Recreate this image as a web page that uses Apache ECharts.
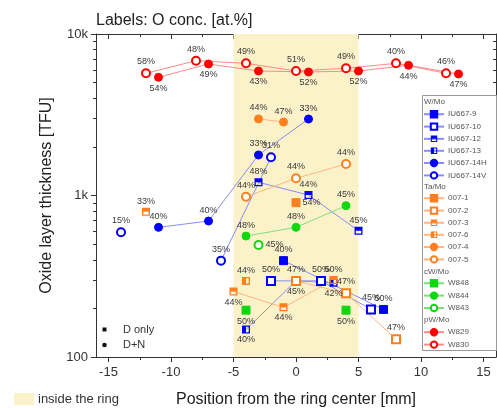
<!DOCTYPE html>
<html><head><meta charset="utf-8">
<script src="https://cdn.jsdelivr.net/npm/echarts@6/dist/echarts.min.js"></script>
<style>html,body{margin:0;padding:0;background:#fff}#c{width:497px;height:408px}</style>
</head><body><div id="c"></div>
<script>
// ---------- axis ticks ----------
const xMajor = [-15, -10, -5, 0, 5, 10, 15];
const xMinor = [-12.5, -7.5, -2.5, 2.5, 7.5, 12.5];
const yMajor = [100, 1000, 10000];
const yMinor = [200, 300, 400, 500, 600, 700, 800, 900, 2000, 3000, 4000, 5000, 6000, 7000, 8000, 9000];
const ringRange = [-5, 5];

// ---------- W/Mo ----------
const IU667_9_x = [-1, 7],        IU667_9_y = [395, 197],          IU667_9_l = ['40%', '50%'];
const IU667_10_x = [-2, 2, 6],    IU667_10_y = [296, 296, 197],    IU667_10_l = ['50%', '50%', '45%'];
const IU667_12_x = [-3, 1, 5],    IU667_12_y = [1207, 1007, 605],  IU667_12_l = ['48%', '44%', '45%'];
const IU667_13_x = [-4, 0, 3],    IU667_13_y = [148, 296, 288],    IU667_13_l = ['40%', '45%', '42%'];
const IU667_14H_x = [-11, -7, -3, 1], IU667_14H_y = [635, 695, 1782, 2975], IU667_14H_l = ['40%', '40%', '33%', '33%'];
const IU667_14V_x = [-6, -2],     IU667_14V_y = [395, 1724],       IU667_14V_l = ['35%', '31%'];
const IU667_14V_bx = [-14],       IU667_14V_by = [592],            IU667_14V_bl = ['15%'];
// ---------- Ta/Mo ----------
const T007_1_x = [0],             T007_1_y = [903],                T007_1_l = ['54%'];
const T007_2_x = [0, 4, 8],       T007_2_y = [296, 248, 129],      T007_2_l = ['47%', '47%', '47%'];
const T007_3_x = [-5, -1, 3],     T007_3_y = [254, 203, 300],      T007_3_l = ['44%', '44%', '50%'];
const T007_3_bx = [-12],          T007_3_by = [794],               T007_3_bl = ['33%'];
const T007_6_x = [-4],            T007_6_y = [296],                T007_6_l = ['44%'];
const T007_4_x = [-3, -1],        T007_4_y = [2980, 2850],         T007_4_l = ['44%', '47%'];
const T007_5_x = [-4, 0, 4],      T007_5_y = [983, 1278, 1567],    T007_5_l = ['44%', '44%', '44%'];
// ---------- cW/Mo ----------
const W848_x = [-4],              W848_y = [195],                  W848_l = ['50%'];
const W848_bx = [4],              W848_by = [195],                 W848_bl = ['50%'];
const W844_x = [-4, 0, 4],        W844_y = [561, 635, 865],        W844_l = ['48%', '48%', '45%'];
const W843_x = [-3],              W843_y = [494],                  W843_l = ['45%'];
// ---------- pW/Mo ----------
const W829_x = [-11, -7, -3, 1, 5, 9, 13];
const W829_y = [5395, 6520, 5900, 5820, 5900, 6400, 5655];
const W829_l = ['54%', '49%', '43%', '52%', '52%', '44%', '47%'];
const W830_x = [-12, -8, -4, 0, 4, 8, 12];
const W830_y = [5710, 6835, 6585, 5900, 6130, 6585, 5710];
const W830_l = ['58%', '48%', '49%', '51%', '49%', '40%', '46%'];

const legendGroups = [
  ['W/Mo', ['IU667-9', 'IU667-10', 'IU667-12', 'IU667-13', 'IU667-14H', 'IU667-14V']],
  ['Ta/Mo', ['007-1', '007-2', '007-3', '007-6', '007-4', '007-5']],
  ['cW/Mo', ['W848', 'W844', 'W843']],
  ['pW/Mo', ['W829', 'W830']]
];

// ---------- styles ----------
const FONT = 'Arial, "Liberation Sans", sans-serif';
const BLUE = {m: '#0000ff', l: '#8c8cf2'};
const ORANGE = {m: '#ff7f1e', l: '#ffb684'};
const GREEN = {m: '#10d810', l: '#7ede7e'};
const RED = {m: '#ff0000', l: '#ff8a8a'};
const RING = '#fbf2ca';
const SQ_OUT = 'M0,0L10,0L10,10L0,10Z M1.6,1.6L1.6,8.4L8.4,8.4L8.4,1.6Z ';
const HALF_TOP = 'path://' + SQ_OUT + 'M1.6,1.6L8.4,1.6L8.4,5L1.6,5Z';
const HALF_LEFT = 'path://' + SQ_OUT + 'M1.6,1.6L5,1.6L5,8.4L1.6,8.4Z';

function mk(name, xs, ys, lbls, c, symbol, pos, posArr) {
  const isPath = symbol.indexOf('path://') === 0;
  return {
    name: name, type: 'line',
    data: xs.map((x, i) => {
      const it = {value: [x, ys[i]]};
      if (posArr && posArr[i]) it.label = {position: posArr[i]};
      return it;
    }),
    symbol: symbol, symbolSize: 8,
    itemStyle: {color: c.m, borderColor: c.m, borderWidth: isPath ? 0 : 1},
    lineStyle: {color: c.l, width: 1},
    label: {show: true, position: pos, distance: 2, formatter: p => lbls[p.dataIndex],
            fontSize: 9, color: '#3a3a3a', fontFamily: FONT},
    emphasis: {disabled: true},
    z: 2
  };
}

const series = [
  mk('W829', W829_x, W829_y, W829_l, RED, 'circle', 'bottom'),
  mk('W830', W830_x, W830_y, W830_l, RED, 'emptyCircle', 'top'),
  mk('IU667-9', IU667_9_x, IU667_9_y, IU667_9_l, BLUE, 'rect', 'top'),
  mk('IU667-10', IU667_10_x, IU667_10_y, IU667_10_l, BLUE, 'emptyRect', 'top'),
  mk('IU667-12', IU667_12_x, IU667_12_y, IU667_12_l, BLUE, HALF_TOP, 'top'),
  mk('IU667-13', IU667_13_x, IU667_13_y, IU667_13_l, BLUE, HALF_LEFT, 'bottom'),
  mk('IU667-14H', IU667_14H_x, IU667_14H_y, IU667_14H_l, BLUE, 'circle', 'top'),
  mk('IU667-14V', IU667_14V_x, IU667_14V_y, IU667_14V_l, BLUE, 'emptyCircle', 'top'),
  mk('_14V_b', IU667_14V_bx, IU667_14V_by, IU667_14V_bl, BLUE, 'emptyCircle', 'top'),
  mk('007-1', T007_1_x, T007_1_y, T007_1_l, ORANGE, 'rect', 'right'),
  mk('007-2', T007_2_x, T007_2_y, T007_2_l, ORANGE, 'emptyRect', 'top'),
  mk('007-3', T007_3_x, T007_3_y, T007_3_l, ORANGE, HALF_TOP, 'bottom', [null, null, 'top']),
  mk('_0073_b', T007_3_bx, T007_3_by, T007_3_bl, ORANGE, HALF_TOP, 'top'),
  mk('007-6', T007_6_x, T007_6_y, T007_6_l, ORANGE, HALF_LEFT, 'top'),
  mk('007-4', T007_4_x, T007_4_y, T007_4_l, ORANGE, 'circle', 'top'),
  mk('007-5', T007_5_x, T007_5_y, T007_5_l, ORANGE, 'emptyCircle', 'top'),
  mk('W848', W848_x, W848_y, W848_l, GREEN, 'rect', 'bottom'),
  mk('_W848_b', W848_bx, W848_by, W848_bl, GREEN, 'rect', 'bottom'),
  mk('W844', W844_x, W844_y, W844_l, GREEN, 'circle', 'top'),
  mk('W843', W843_x, W843_y, W843_l, GREEN, 'emptyCircle', 'right')
];
series[0].markArea = {
  silent: true,
  itemStyle: {color: RING},
  data: [[{xAxis: ringRange[0]}, {xAxis: ringRange[1]}]]
};

const legendTops = [110, 194, 279, 328];
const headerY = [102, 187, 272, 320];
const legends = legendGroups.map((g, i) => ({
  data: g[1], orient: 'vertical', left: 423, top: legendTops[i], padding: 0,
  itemWidth: 20, itemHeight: 8, itemGap: 4, selectedMode: false, z: 5,
  textStyle: {fontSize: 8, lineHeight: 8, color: '#555', fontFamily: FONT, padding: [0, 0, 0, -1]}
}));

const axisLineStyle = {color: '#333', width: 1};
const xBase = {type: 'value', min: -16, max: 16, splitLine: {show: false}};
const yBase = {type: 'log', logBase: 10, min: 100, max: 10000, splitLine: {show: false}};

const option = {
  animation: false,
  backgroundColor: '#fff',
  title: {text: 'Labels: O conc. [at.%]', left: 96, top: 13, padding: 0,
          textStyle: {fontSize: 16, fontWeight: 'normal', color: '#222', fontFamily: FONT}},
  grid: {left: 96, top: 34, width: 400, height: 323, containLabel: false, outerBoundsMode: 'none'},
  legend: legends,
  xAxis: [
    Object.assign({}, xBase, {position: 'bottom',
      axisLine: {show: true, onZero: false, lineStyle: axisLineStyle},
      axisTick: {show: true, inside: false, length: 5, customValues: xMajor, lineStyle: axisLineStyle},
      axisLabel: {customValues: xMajor, fontSize: 13, color: '#333', margin: 9, fontFamily: FONT},
      name: 'Position from the ring center [mm]', nameLocation: 'middle', nameGap: 35,
      nameTextStyle: {fontSize: 16, color: '#222', fontFamily: FONT}}),
    Object.assign({}, xBase, {position: 'top',
      axisLine: {show: true, onZero: false, lineStyle: axisLineStyle},
      axisTick: {show: true, inside: true, length: 5, customValues: xMajor, lineStyle: axisLineStyle},
      axisLabel: {show: false}}),
    Object.assign({}, xBase, {position: 'bottom',
      axisLine: {show: false, onZero: false},
      axisTick: {show: true, inside: false, length: 3, customValues: xMinor, lineStyle: axisLineStyle},
      axisLabel: {show: false}}),
    Object.assign({}, xBase, {position: 'top',
      axisLine: {show: false, onZero: false},
      axisTick: {show: true, inside: true, length: 3, customValues: xMinor, lineStyle: axisLineStyle},
      axisLabel: {show: false}})
  ],
  yAxis: [
    Object.assign({}, yBase, {position: 'left',
      axisLine: {show: true, onZero: false, lineStyle: axisLineStyle},
      axisTick: {show: true, inside: false, length: 5, customValues: yMajor, lineStyle: axisLineStyle},
      axisLabel: {customValues: yMajor, fontSize: 13, color: '#333', margin: 8, fontFamily: FONT,
        formatter: v => v >= 10000 ? '10k' : (v >= 1000 ? '1k' : String(v))},
      name: 'Oxide layer thickness [TFU]', nameLocation: 'middle', nameGap: 41,
      nameTextStyle: {fontSize: 16, color: '#222', fontFamily: FONT}}),
    Object.assign({}, yBase, {position: 'right',
      axisLine: {show: true, onZero: false, lineStyle: axisLineStyle},
      axisTick: {show: true, inside: true, length: 5, customValues: yMajor, lineStyle: axisLineStyle},
      axisLabel: {show: false}}),
    Object.assign({}, yBase, {position: 'left',
      axisLine: {show: false, onZero: false},
      axisTick: {show: true, inside: false, length: 3, customValues: yMinor, lineStyle: axisLineStyle},
      axisLabel: {show: false}}),
    Object.assign({}, yBase, {position: 'right',
      axisLine: {show: false, onZero: false},
      axisTick: {show: true, inside: true, length: 3, customValues: yMinor, lineStyle: axisLineStyle},
      axisLabel: {show: false}})
  ],
  graphic: [
    {type: 'rect', shape: {x: 422.5, y: 95.5, width: 74, height: 255}, z: 3,
     style: {fill: '#fff', stroke: '#9a9a9a', lineWidth: 1}},
    ...legendGroups.map((g, i) => ({type: 'text', x: 424, y: headerY[i], z: 6,
      style: {text: g[0], fontSize: 8, fill: '#555', fontFamily: FONT, verticalAlign: 'middle'}})),
    {type: 'rect', shape: {x: 102.5, y: 327.5, width: 4, height: 4}, z: 6, style: {fill: '#111'}},
    {type: 'text', x: 123, y: 330, z: 6, style: {text: 'D only', fontSize: 11, fill: '#333', fontFamily: FONT, verticalAlign: 'middle'}},
    {type: 'circle', shape: {cx: 104.5, cy: 345, r: 2.3}, z: 6, style: {fill: '#111'}},
    {type: 'text', x: 123, y: 345, z: 6, style: {text: 'D+N', fontSize: 11, fill: '#333', fontFamily: FONT, verticalAlign: 'middle'}},
    {type: 'rect', shape: {x: 14, y: 393, width: 20, height: 12}, z: 6, style: {fill: RING}},
    {type: 'text', x: 38, y: 399, z: 6, style: {text: 'inside the ring', fontSize: 13, fill: '#333', fontFamily: FONT, verticalAlign: 'middle'}}
  ],
  series: series
};

const chart = echarts.init(document.getElementById('c'), null, {renderer: 'canvas'});
chart.setOption(option);
</script>
</body></html>
